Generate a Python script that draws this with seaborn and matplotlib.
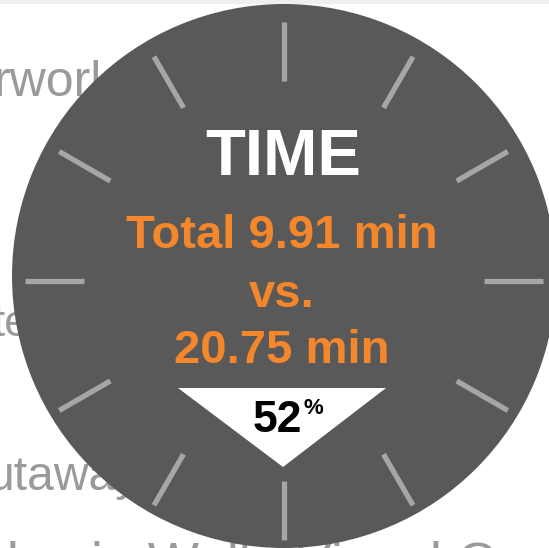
import matplotlib.pyplot as plt
import numpy as np
import seaborn as sns
from matplotlib.patches import Circle, Polygon, Rectangle

sns.set_theme(style="white")
plt.rcParams["font.family"] = ["Liberation Sans", "DejaVu Sans"]

# Chart content
title = "TIME"
new_minutes = 9.91
old_minutes = 20.75
reduction_pct = 52
clock_hours = np.arange(12)

# Faded slide text sitting behind the dial
bg_words = ["rworl", "te", "utaway", "Holes in Wall   Visual Cue"]

DIAL = "#595959"
TICK = "#a6a6a6"
ORANGE = "#f4862c"
BG_TEXT = "#9a9a9a"

fig = plt.figure(figsize=(5.49, 5.48), dpi=100)
ax = fig.add_axes([0, 0, 1, 1])
ax.set_xlim(0, 549)
ax.set_ylim(548, 0)
ax.set_aspect("equal")
ax.axis("off")

# light strip along the top edge
ax.add_patch(Rectangle((0, 0), 549, 3.5, color="#efefef", lw=0, zorder=0))

bg_pos = [(-6, 96, 50), (-8, 336, 44), (-12, 490, 48), (-62, 580, 54)]
for word, (x, y, size) in zip(bg_words, bg_pos):
    ax.text(x, y, word, color=BG_TEXT, fontsize=size * 72 / 100,
            ha="left", va="baseline", zorder=1)

# dial face
cx, cy, r = 284, 276, 272
ax.add_patch(Circle((cx, cy), r, color=DIAL, lw=0, zorder=2))

# hour ticks
tcx, tcy = 283.5, 281
ang = clock_hours * np.pi / 6
r_in, r_out = 200, 259
for a in ang:
    xs = [tcx + r_in * np.sin(a), tcx + r_out * np.sin(a)]
    ys = [tcy - r_in * np.cos(a), tcy - r_out * np.cos(a)]
    ax.plot(xs, ys, color=TICK, lw=3.8, solid_capstyle="butt", zorder=3)

# text block
ax.text(283, 175, title, color="white", fontsize=47, fontweight="bold",
        ha="center", va="baseline", zorder=4)
ax.text(282, 248, f"Total {new_minutes:.2f} min", color=ORANGE, fontsize=34,
        fontweight="bold", ha="center", va="baseline", zorder=4)
ax.text(282, 307, "vs.", color=ORANGE, fontsize=34, fontweight="bold",
        ha="center", va="baseline", zorder=4)
ax.text(282, 363, f"{old_minutes:.2f} min", color=ORANGE, fontsize=34,
        fontweight="bold", ha="center", va="baseline", zorder=4)

# reduction pointer
ax.add_patch(Polygon([(178, 388), (386, 388), (283, 467)], closed=True,
                     color="white", lw=0, zorder=4))
ax.text(302, 432, f"{reduction_pct}", color="black", fontsize=32,
        fontweight="bold", ha="right", va="baseline", zorder=5)
ax.text(303, 398, "%", color="black", fontsize=16, fontweight="bold",
        ha="left", va="top", zorder=5)

fig.savefig("out.png", dpi=100)
plt.close(fig)
